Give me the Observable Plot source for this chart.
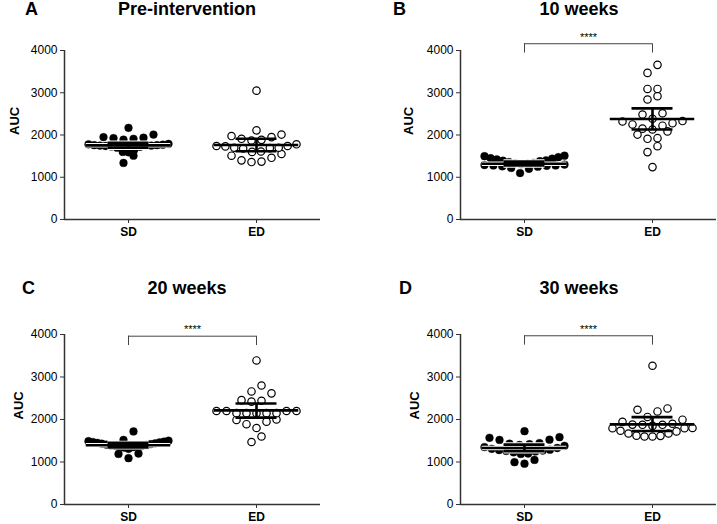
<!DOCTYPE html>
<html>
<head>
<meta charset="utf-8">
<script src="https://cdn.jsdelivr.net/npm/d3@7"></script>
<script src="https://cdn.jsdelivr.net/npm/@observablehq/plot@0.6"></script>
<style>
  body { margin: 0; background: #fff; }
  #wrap { position: relative; width: 717px; height: 524px; background: #fff; font-family: "Liberation Sans", Arial, sans-serif; }
  .panel { position: absolute; }
  .ttl { position: absolute; font-size: 18px; font-weight: bold; line-height: 18px; color: #000; white-space: nowrap; }
</style>
</head>
<body>
<div id="wrap"></div>
<script>
// ---------- data ----------
const groups = ["SD", "ED"];
const panelLetters = ["A", "B", "C", "D"];
const panelTitles = ["Pre-intervention", "10 weeks", "20 weeks", "30 weeks"];
const yTicks = [0, 1000, 2000, 3000, 4000];

const preSD = [2170, 2010, 1950, 1935, 1925, 1910, 1890, 1790, 1780, 1770, 1760, 1760, 1750, 1750, 1740, 1740, 1730, 1720, 1700, 1650, 1600, 1590, 1510, 1340];
const preED = [3050, 2110, 2010, 1975, 1950, 1910, 1885, 1870, 1780, 1740, 1730, 1700, 1690, 1680, 1700, 1740, 1600, 1510, 1400, 1360, 1370, 1460, 1550, 1610];
const wk10SD = [1510, 1500, 1475, 1450, 1440, 1420, 1400, 1390, 1380, 1360, 1340, 1330, 1320, 1310, 1300, 1290, 1280, 1280, 1270, 1260, 1250, 1220, 1200, 1100];
const wk10ED = [3660, 3470, 3090, 3090, 2920, 2840, 2515, 2485, 2385, 2330, 2320, 2280, 2250, 2220, 2150, 2130, 2085, 2010, 1925, 1910, 1735, 1595, 1240];
const wk20SD = [1720, 1520, 1500, 1490, 1480, 1470, 1460, 1450, 1440, 1430, 1420, 1410, 1400, 1390, 1380, 1380, 1370, 1360, 1350, 1340, 1310, 1200, 1190, 1090];
const wk20ED = [3390, 2800, 2660, 2615, 2455, 2440, 2420, 2200, 2200, 2200, 2200, 2150, 2150, 2150, 2150, 2150, 2000, 1990, 1950, 1890, 1800, 1600, 1470];
const wk30SD = [1725, 1585, 1570, 1525, 1520, 1445, 1430, 1420, 1400, 1380, 1350, 1330, 1310, 1290, 1280, 1270, 1260, 1250, 1230, 1200, 1190, 1050, 995, 960];
const wk30ED = [3265, 2260, 2230, 2190, 2060, 1995, 1945, 1900, 1880, 1875, 1875, 1850, 1800, 1795, 1795, 1735, 1720, 1670, 1670, 1620, 1615, 1600, 1600];

// mean with 95% CI
const meanSD = [1755, 1320, 1395, 1330];
const loSD   = [1700, 1280, 1345, 1255];
const hiSD   = [1815, 1370, 1450, 1410];
const meanED = [1765, 2380, 2215, 1885];
const loED   = [1615, 2130, 2045, 1730];
const hiED   = [1910, 2630, 2375, 2055];

const bracketAUC = [null, 4160, 3960, 3970];
const sigLabels = ["", "****", "****", "****"];

// ---------- layout ----------
const seriesSD = [preSD, wk10SD, wk20SD, wk30SD];
const seriesED = [preED, wk10ED, wk20ED, wk30ED];
const layout = [
  {left: 0,   top: 0,   width: 358, ml: 64,  mr: 38, mt: 50, mb: 43, labelDx: -50, tx: 187, lx: 25,  base: 15},
  {left: 358, top: 0,   width: 359, ml: 102, mr: 1,  mt: 50, mb: 43, labelDx: -52, tx: 579, lx: 393, base: 15},
  {left: 0,   top: 262, width: 358, ml: 64,  mr: 38, mt: 72, mb: 20, labelDx: -46, tx: 187, lx: 22,  base: 294},
  {left: 358, top: 262, width: 359, ml: 102, mr: 1,  mt: 72, mb: 20, labelDx: -46, tx: 579, lx: 399, base: 294}
];
const pxPerUnit = 128; // plot width 256 px over x domain of 2 units

// Prism-like scatter arrangement: rows of similar values, spread symmetric around group center
function swarm(values, g, step = 200, basePx = 10, maxSpanPx = 80) {
  const sorted = [...values].sort((a, b) => a - b);
  const rows = [];
  let cur = null;
  for (const v of sorted) {
    if (!cur || v > cur.start + step) { cur = {start: v, vals: []}; rows.push(cur); }
    cur.vals.push(v);
  }
  const out = [];
  for (const r of rows) {
    const n = r.vals.length;
    const sp = n > 1 ? Math.min(basePx, maxSpanPx / (n - 1)) : 0;
    const slots = d3.range(n).map(k => (k - (n - 1) / 2) * sp);
    slots.sort((a, b) => Math.abs(a) - Math.abs(b) || a - b);
    r.vals.forEach((v, i) => out.push({g, v, off: slots[i] / pxPerUnit}));
  }
  return out;
}

const wrap = document.getElementById("wrap");
const font = '"Liberation Sans", Arial, sans-serif';

layout.forEach((L, p) => {
  const sdPts = swarm(seriesSD[p], 0);
  const edPts = swarm(seriesED[p], 1);
  const summ = [
    {g: 0, mean: meanSD[p], lo: loSD[p], hi: hiSD[p]},
    {g: 1, mean: meanED[p], lo: loED[p], hi: hiED[p]}
  ];
  const errMarks = (stroke, sw, data) => [
    Plot.ruleY(data, {y: "mean", x1: d => d.g - 0.33, x2: d => d.g + 0.33, stroke, strokeWidth: sw}),
    Plot.ruleY(data, {y: "lo", x1: d => d.g - 0.16, x2: d => d.g + 0.16, stroke, strokeWidth: sw}),
    Plot.ruleY(data, {y: "hi", x1: d => d.g - 0.16, x2: d => d.g + 0.16, stroke, strokeWidth: sw}),
    Plot.ruleX(data, {x: "g", y1: "lo", y2: "hi", stroke, strokeWidth: sw})
  ];
  const marks = [
    Plot.ruleX([-0.5], {stroke: "#333", strokeWidth: 1.5}),
    Plot.ruleY([0], {stroke: "#333", strokeWidth: 1.5}),
    Plot.axisY({ticks: yTicks, tickFormat: "d", tickSize: 4, tickPadding: 3, fontSize: 12, stroke: "#333", fill: "#000", label: null}),
    Plot.axisX({ticks: [0, 1], tickFormat: i => groups[i], tickSize: 4, tickPadding: 4, fontSize: 12, fontWeight: "bold", stroke: "#333", fill: "#000", label: null}),
    Plot.text(["AUC"], {text: d => d, frameAnchor: "left", rotate: -90, dx: L.labelDx, fontSize: 13, fontWeight: "bold", fill: "#000"}),
    Plot.dot(sdPts, {x: d => d.g + d.off, y: "v", r: 3.9, fill: "#000", stroke: "#000", strokeWidth: 0.4}),
    Plot.dot(edPts, {x: d => d.g + d.off, y: "v", r: 3.7, fill: "#fff", stroke: "#000", strokeWidth: 1.2}),
    ...errMarks("#fff", 4.5, summ.slice(0, 1)),
    ...errMarks("#000", 2.6, summ)
  ];
  if (bracketAUC[p] != null) {
    const b = [{y: bracketAUC[p], t: sigLabels[p]}];
    marks.push(
      Plot.ruleY(b, {y: "y", x1: 0, x2: 1, stroke: "#444", strokeWidth: 1}),
      Plot.ruleX([0, 1], {x: d => d, y1: bracketAUC[p], y2: bracketAUC[p] - 220, stroke: "#444", strokeWidth: 1}),
      Plot.text(b, {x: 0.5, y: "y", text: "t", lineAnchor: "bottom", dy: -3, fontSize: 11, fill: "#000"})
    );
  }
  const chart = Plot.plot({
    width: L.width,
    height: 262,
    marginLeft: L.ml,
    marginRight: L.mr,
    marginTop: L.mt,
    marginBottom: L.mb,
    style: {fontFamily: font, fontSize: "12px", background: "transparent", overflow: "visible", color: "#000"},
    x: {type: "linear", domain: [-0.5, 1.5]},
    y: {domain: [0, 4000]},
    marks
  });
  const holder = document.createElement("div");
  holder.className = "panel";
  holder.style.left = L.left + "px";
  holder.style.top = L.top + "px";
  holder.appendChild(chart);
  wrap.appendChild(holder);

  const t = document.createElement("div");
  t.className = "ttl";
  t.style.left = (L.tx - 120) + "px";
  t.style.width = "240px";
  t.style.textAlign = "center";
  t.style.top = (L.base - 15) + "px";
  t.textContent = panelTitles[p];
  wrap.appendChild(t);

  const l = document.createElement("div");
  l.className = "ttl";
  l.style.left = L.lx + "px";
  l.style.top = (L.base - 15) + "px";
  l.textContent = panelLetters[p];
  wrap.appendChild(l);
});
</script>
</body>
</html>
